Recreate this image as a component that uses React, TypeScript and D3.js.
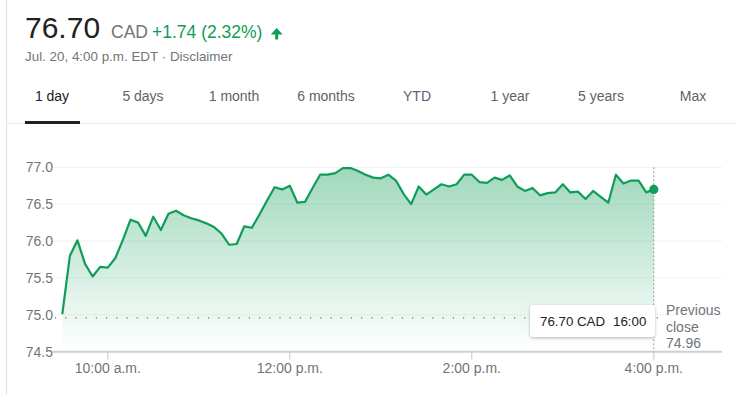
import React from 'react';
import * as d3 from 'd3';

// 5-minute closes from 9:30 to 16:00
const prices = [
  75.01, 75.80, 76.01, 75.69, 75.52, 75.65, 75.64, 75.77, 76.02, 76.29,
  76.25, 76.07, 76.33, 76.15, 76.37, 76.41, 76.35, 76.31, 76.28, 76.24,
  76.19, 76.10, 75.95, 75.96, 76.20, 76.18, 76.36, 76.55, 76.73, 76.70,
  76.75, 76.52, 76.53, 76.72, 76.90, 76.90, 76.92, 76.99, 76.99, 76.95,
  76.90, 76.86, 76.85, 76.90, 76.82, 76.64, 76.50, 76.74, 76.63, 76.70,
  76.77, 76.74, 76.77, 76.90, 76.90, 76.80, 76.79, 76.86, 76.83, 76.89,
  76.74, 76.68, 76.72, 76.62, 76.65, 76.66, 76.77, 76.66, 76.67, 76.57,
  76.68, 76.60, 76.52, 76.90, 76.78, 76.82, 76.82, 76.66, 76.70,
];
const openMinute = 9 * 60 + 30;
const stepMinutes = 5;

const yTicks = [74.5, 75.0, 75.5, 76.0, 76.5, 77.0];
const xTickMinutes = [600, 720, 840, 960];
const xTickLabels = ['10:00 a.m.', '12:00 p.m.', '2:00 p.m.', '4:00 p.m.'];
const tabs = ['1 day', '5 days', '1 month', '6 months', 'YTD', '1 year', '5 years', 'Max'];
const tabCenters = [52, 143, 234, 326, 417, 510, 601, 693];

const previousClose = 74.96;
const lastPrice = '76.70';
const change = '+1.74 (2.32%)';

const FONT = '"Liberation Sans", Arial, sans-serif';
const GREEN = '#0f9d58';
const GRAY = '#70757a';

export default function App() {
  const x = d3.scaleLinear().domain([openMinute, 960]).range([62.3, 653.8]);
  const y = d3.scaleLinear().domain([74.5, 77.0]).range([351.7, 167.3]);
  const left = 53;
  const right = 722;

  const pts = prices.map((p, i) => ({ t: openMinute + i * stepMinutes, p }));
  const line = d3.line<{ t: number; p: number }>().x(d => x(d.t)).y(d => y(d.p));
  const area = d3.area<{ t: number; p: number }>().x(d => x(d.t)).y0(y(74.5)).y1(d => y(d.p));
  const last = pts[pts.length - 1];

  return (
    <div style={{ position: 'fixed', left: 0, top: 0 }}>
      <svg width={735} height={395} style={{ display: 'block', fontFamily: FONT }}>
        <defs>
          <linearGradient id="fillg" gradientUnits="userSpaceOnUse" x1={0} x2={0} y1={y(77)} y2={y(74.5)}>
            <stop offset="0" stopColor={GREEN} stopOpacity={0.4} />
            <stop offset="1" stopColor={GREEN} stopOpacity={0} />
          </linearGradient>
          <filter id="shadow" x="-20%" y="-30%" width="140%" height="170%">
            <feDropShadow dx={0} dy={1} stdDeviation={1.5} floodColor="#000" floodOpacity={0.28} />
          </filter>
        </defs>
        <rect width={735} height={395} fill="#fff" />
        <line x1={6.5} x2={6.5} y1={0} y2={395} stroke="#e0e0e0" />

        {/* header */}
        <text x={25} y={38} fontSize={30} fill="#222">{lastPrice}</text>
        <text x={111} y={38} fontSize={17.5} fill={GRAY}>CAD</text>
        <text x={152} y={38} fontSize={17.5} fill={GREEN}>{change}</text>
        <path d="M276.7,28 L282.7,34.5 L278.2,34.5 L278.2,39.5 L275.2,39.5 L275.2,34.5 L270.7,34.5 Z" fill={GREEN} />
        <text x={25} y={61} fontSize={13.4} fill={GRAY}>Jul. 20, 4:00 p.m. EDT · Disclaimer</text>

        {/* tabs */}
        {tabs.map((t, i) => (
          <text key={t} x={tabCenters[i]} y={101} fontSize={14} textAnchor="middle" fill={i === 0 ? '#202124' : '#5f6368'}>{t}</text>
        ))}
        <line x1={6} x2={735} y1={123.5} y2={123.5} stroke="#e8e8e8" />
        <rect x={25} y={121} width={55} height={3} fill="#202124" />

        {/* grid + y labels */}
        {yTicks.map(v => (
          <g key={v}>
            {v > 74.5 && <line x1={left} x2={right} y1={y(v)} y2={y(v)} stroke="#f1f1f1" />}
            <text x={left} y={y(v)} dy="0.36em" fontSize={14} textAnchor="end" fill={GRAY}>{v.toFixed(1)}</text>
          </g>
        ))}

        {/* area + line */}
        <path d={area(pts) ?? ''} fill="url(#fillg)" />
        <path d={line(pts) ?? ''} fill="none" stroke={GREEN} strokeWidth={2.2} strokeLinejoin="round" />

        {/* previous close */}
        <line x1={55} x2={664} y1={y(previousClose)} y2={y(previousClose)} stroke="#888" strokeWidth={1.5} strokeDasharray="1.2 9" />
        <text fontSize={14} fill={GRAY}>
          <tspan x={666} y={315}>Previous</tspan>
          <tspan x={666} y={331.5}>close</tspan>
          <tspan x={666} y={348}>{previousClose.toFixed(2)}</tspan>
        </text>

        {/* x axis */}
        <line x1={left} x2={right} y1={y(74.5)} y2={y(74.5)} stroke="#cfcfcf" strokeWidth={2} />
        {xTickMinutes.map((m, i) => (
          <g key={m}>
            <line x1={x(m)} x2={x(m)} y1={y(74.5)} y2={y(74.5) + 8} stroke="#cfcfcf" strokeWidth={1.2} />
            <text x={x(m)} y={373} fontSize={14} textAnchor="middle" fill={GRAY}>{xTickLabels[i]}</text>
          </g>
        ))}

        {/* hover marker */}
        <line x1={x(last.t)} x2={x(last.t)} y1={y(77)} y2={y(74.5)} stroke="#9a9a9a" strokeDasharray="2 2" />
        <circle cx={x(last.t)} cy={y(last.p)} r={4.6} fill={GREEN} />
        <rect x={530} y={305} width={125} height={32} rx={3} fill="#fff" filter="url(#shadow)" />
        <text x={540} y={326} fontSize={13.3} fill="#222">{last.p.toFixed(2)} CAD</text>
        <text x={613} y={326} fontSize={13.3} fill="#222">16:00</text>
      </svg>
    </div>
  );
}
